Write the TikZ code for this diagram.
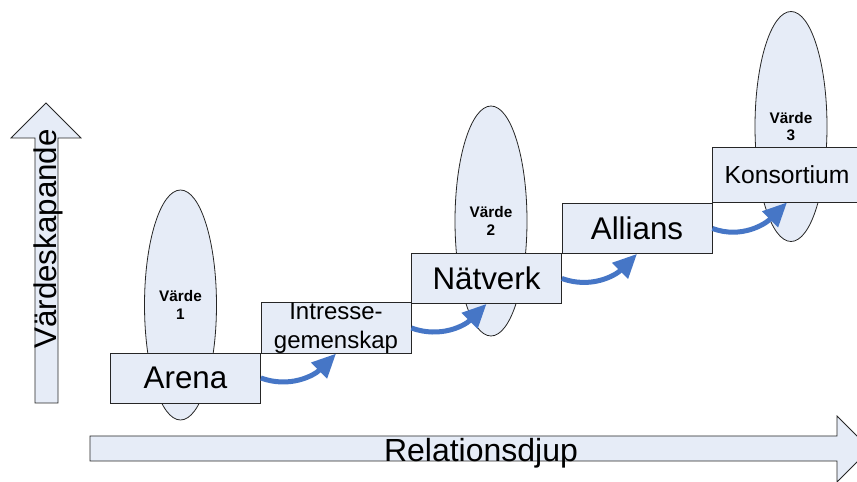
\documentclass[tikz,border=0pt]{standalone}
\usepackage{fontspec}
\setmainfont{Liberation Sans}
\usetikzlibrary{shapes.geometric,arrows.meta}
\definecolor{boxfill}{RGB}{230,236,247}
\definecolor{flowblue}{RGB}{70,118,198}
\begin{document}
\begin{tikzpicture}[x=0.75pt,y=0.75pt,
		stage/.style={draw=black!85,fill=boxfill,line width=0.6pt,minimum width=112.5pt,minimum height=37.5pt,inner sep=0pt,align=center},
		value/.style={ellipse,draw=black!85,fill=boxfill,line width=0.6pt,minimum width=54pt,minimum height=172.5pt,inner sep=0pt,align=center,font=\fontsize{11.5}{13}\selectfont\bfseries},
		flow/.style={flowblue,line width=3.75pt,-{Triangle[length=18pt,width=16pt]}},
		axisarrow/.style={draw=black!85,fill=boxfill,line width=0.6pt}]
	\useasboundingbox (0,0) rectangle (857,482);
	\draw[axisarrow] (35,79) -- (35,344) -- (11,344) -- (46,379) -- (81,344) -- (58,344) -- (58,79) -- cycle;
	\node[rotate=90,inner sep=0pt,font=\fontsize{23.5}{28}\selectfont] (yaxis) at (48.5,243) {Värdeskapande};
	\draw[axisarrow] (90,21) -- (837,21) -- (837,0) -- (870,33) -- (837,66) -- (837,46) -- (90,46) -- cycle;
	\node[anchor=base,inner sep=0pt,font=\fontsize{24}{28}\selectfont] (xaxis) at (481,21) {Relationsdjup};
	\node[value] (v1) at (180.5,177) {Värde\\1};
	\node[value] (v2) at (491,261) {Värde\\2};
	\node[value] (v3) at (791,355.5) {Värde\\3};
	\node[stage,font=\fontsize{23.5}{28}\selectfont] (arena) at (185.5,104) {Arena};
	\node[stage,font=\fontsize{18}{21.75}\selectfont] (intresse) at (336,154) {Intresse-\\gemenskap};
	\node[stage,font=\fontsize{23.5}{28}\selectfont] (natverk) at (486.5,203.5) {Nätverk};
	\node[stage,font=\fontsize{23.5}{28}\selectfont] (allians) at (637,253.5) {Allians};
	\node[stage,minimum height=41.25pt,font=\fontsize{18.5}{22}\selectfont] (konsortium) at (787,307.5) {Konsortium};
	\draw[flow] (arena.east) to[out=-20,in=225] (intresse.south);
	\draw[flow] (intresse.east) to[out=-20,in=225] (natverk.south);
	\draw[flow] (natverk.east) to[out=-20,in=225] (allians.south);
	\draw[flow] (allians.east) to[out=-20,in=225] (konsortium.south);
\end{tikzpicture}
\end{document}
